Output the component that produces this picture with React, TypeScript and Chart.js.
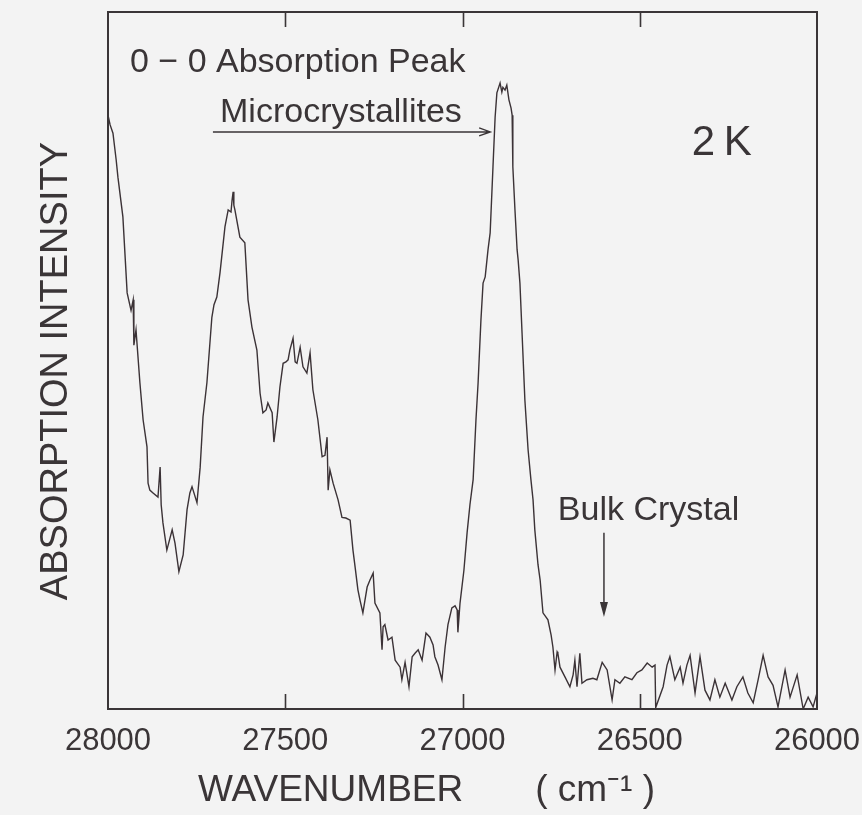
import React, { useEffect, useRef } from 'react';
import { Chart, registerables } from 'chart.js';

Chart.register(...registerables);

// Wavenumber (cm^-1) and absorption intensity (arb. units, 0-100)
const wavenumber = [
  28000, 27994, 27986, 27977, 27972, 27958, 27946, 27935, 27929, 27927, 27921, 27910, 27901, 27890, 27887,
  27882, 27873, 27859, 27853, 27850, 27845, 27834, 27819, 27811, 27800, 27788, 27777, 27769, 27763, 27749,
  27740, 27732, 27721, 27707, 27701, 27693, 27684, 27670, 27661, 27653, 27650, 27647, 27645, 27642, 27628,
  27614, 27605, 27594, 27580, 27571, 27563, 27554, 27549, 27537, 27532, 27523, 27515, 27506, 27498, 27492,
  27487, 27478, 27472, 27467, 27458, 27450, 27439, 27430, 27422, 27408, 27396, 27388, 27382, 27379, 27374,
  27365, 27351, 27340, 27329, 27317, 27309, 27303, 27295, 27289, 27281, 27269, 27261, 27252, 27247, 27233,
  27227, 27224, 27219, 27210, 27199, 27190, 27176, 27171, 27162, 27151, 27142, 27134, 27125, 27114, 27103,
  27092, 27083, 27078, 27069, 27058, 27049, 27041, 27030, 27021, 27015, 27013, 27007, 26996, 26987, 26979,
  26970, 26962, 26956, 26948, 26942, 26936, 26928, 26922, 26914, 26908, 26903, 26894, 26889, 26886, 26880,
  26875, 26869, 26863, 26860, 26858, 26852, 26846, 26843, 26838, 26832, 26824, 26815, 26807, 26801, 26796,
  26787, 26781, 26773, 26759, 26750, 26745, 26739, 26733, 26731, 26725, 26711, 26697, 26688, 26683, 26677,
  26669, 26663, 26649, 26632, 26621, 26606, 26592, 26578, 26570, 26556, 26542, 26522, 26508, 26494, 26479,
  26465, 26457, 26455, 26434, 26423, 26415, 26401, 26386, 26378, 26367, 26358, 26344, 26330, 26316, 26302,
  26288, 26274, 26259, 26251, 26240, 26226, 26209, 26195, 26180, 26166, 26152, 26138, 26124, 26110, 26090,
  26076, 26056, 26039, 26025, 26011, 26000,
];

const intensity = [
  85.2, 83.8, 82.6, 78.8, 76.3, 70.6, 59.7, 57.2, 58.7, 52.2, 54.4, 46.8, 41.5, 37.6, 32.4,
  31.4, 31.0, 30.4, 34.7, 29.3, 26.7, 22.8, 25.7, 23.8, 19.7, 22.1, 28.6, 31.0, 31.9, 29.6,
  34.7, 41.9, 46.8, 56.2, 58.0, 59.1, 62.6, 69.2, 71.6, 71.3, 73.0, 74.2, 72.3, 71.6, 67.7,
  66.9, 58.7, 54.8, 51.5, 45.3, 42.5, 42.9, 43.9, 42.5, 38.3, 41.9, 46.2, 49.6, 49.8, 50.1,
  51.5, 53.2, 49.8, 49.6, 51.9, 49.1, 48.2, 51.1, 45.8, 41.5, 36.2, 36.4, 39.0, 31.4, 34.3,
  32.4, 30.0, 27.5, 27.4, 27.1, 22.8, 20.4, 17.1, 15.6, 13.8, 17.5, 18.5, 19.5, 15.2, 13.8,
  8.5, 11.8, 12.1, 9.9, 10.3, 7.0, 6.0, 4.2, 6.7, 3.2, 7.5, 8.0, 8.5, 7.0, 10.9,
  10.3, 9.2, 7.5, 6.3, 4.2, 8.9, 12.1, 14.5, 14.8, 14.2, 11.0, 15.2, 19.9, 25.3, 29.3,
  32.9, 41.5, 46.8, 55.8, 61.1, 62.0, 65.9, 68.3, 77.8, 84.9, 88.4, 89.8, 88.5, 89.2, 88.8,
  89.5, 87.4, 86.2, 85.2, 77.8, 71.6, 65.9, 64.4, 61.1, 53.9, 44.3, 37.2, 32.9, 30.0, 25.7,
  20.7, 18.5, 13.8, 12.8, 10.6, 8.9, 5.6, 8.2, 8.0, 6.0, 4.6, 3.2, 4.9, 7.0, 3.2,
  8.0, 3.7, 4.2, 4.4, 4.2, 6.7, 5.6, 1.3, 4.2, 3.7, 4.6, 4.2, 5.2, 5.6, 6.6,
  6.0, 6.3, 0.2, 3.2, 6.3, 7.5, 4.2, 6.0, 3.7, 6.3, 7.7, 2.3, 7.5, 2.7, 1.3,
  4.2, 1.7, 3.7, 2.7, 1.3, 3.2, 4.6, 2.3, 0.9, 4.2, 7.7, 4.6, 3.4, 0.3, 5.6,
  1.7, 4.9, 0.0, 1.7, 0.3, 2.3,
];

const xTickValues = [28000, 27500, 27000, 26500, 26000];

const INK = '#3a3537';
const LINE = '#3b3236';
const FONT = '"Liberation Sans", Arial, sans-serif';

// Annotation texts, anchored in data coordinates (x: wavenumber, y: intensity)
const labels = [
  { text: '0 \u2212 0 Absorption Peak', x: 27938, y: 91.4, size: 34 },
  { text: 'Microcrystallites', x: 27684, y: 84.2, size: 34 },
  { text: '2\u2009K', x: 26353, y: 79.5, size: 42 },
  { text: 'Bulk Crystal', x: 26731, y: 27.1, size: 34 },
];

const annotationPlugin = {
  id: 'annotations',
  afterDatasetsDraw(chart: any) {
    const { ctx, chartArea: a, scales } = chart;
    const xs = scales.x;
    const ys = scales.y;
    ctx.save();
    // frame
    ctx.strokeStyle = INK;
    ctx.lineWidth = 2;
    ctx.strokeRect(a.left, a.top, a.right - a.left, a.bottom - a.top);
    // inward ticks top & bottom
    ctx.lineWidth = 1.6;
    xs.ticks.forEach((t: any) => {
      if (t.value === xs.min || t.value === xs.max) return;
      const px = Math.round(xs.getPixelForValue(t.value)) + 0.5;
      ctx.beginPath();
      ctx.moveTo(px, a.bottom);
      ctx.lineTo(px, a.bottom - 15);
      ctx.moveTo(px, a.top);
      ctx.lineTo(px, a.top + 15);
      ctx.stroke();
    });
    // texts
    ctx.fillStyle = INK;
    ctx.textBaseline = 'alphabetic';
    ctx.textAlign = 'left';
    labels.forEach((l) => {
      ctx.font = `${l.size}px ${FONT}`;
      ctx.fillText(l.text, xs.getPixelForValue(l.x), ys.getPixelForValue(l.y));
    });
    // arrow to microcrystallite peak
    ctx.lineWidth = 1.5;
    const ay = ys.getPixelForValue(82.8);
    const ax0 = xs.getPixelForValue(27704);
    const ax1 = xs.getPixelForValue(26922);
    ctx.beginPath();
    ctx.moveTo(ax0, ay);
    ctx.lineTo(ax1, ay);
    ctx.moveTo(ax1 - 11, ay - 4);
    ctx.lineTo(ax1, ay);
    ctx.lineTo(ax1 - 11, ay + 4);
    ctx.stroke();
    // arrow to bulk crystal
    const bx = xs.getPixelForValue(26601);
    const by0 = ys.getPixelForValue(25.3);
    const by1 = ys.getPixelForValue(13.2);
    ctx.beginPath();
    ctx.moveTo(bx, by0);
    ctx.lineTo(bx, by1 - 12);
    ctx.stroke();
    ctx.beginPath();
    ctx.moveTo(bx - 4, by1 - 15);
    ctx.lineTo(bx + 4, by1 - 15);
    ctx.lineTo(bx, by1);
    ctx.closePath();
    ctx.fill();
    ctx.restore();
  },
};

export default function App() {
  const ref = useRef<HTMLCanvasElement | null>(null);
  useEffect(() => {
    if (!ref.current) return;
    const data = wavenumber.map((w, i) => ({ x: w, y: intensity[i] }));
    const chart = new Chart(ref.current, {
      type: 'line',
      data: {
        datasets: [
          {
            data,
            borderColor: LINE,
            borderWidth: 1.4,
            pointRadius: 0,
            tension: 0,
            fill: false,
          },
        ],
      },
      options: {
        animation: false,
        responsive: true,
        maintainAspectRatio: false,
        layout: { padding: { top: 12, right: 45, left: 0, bottom: 0 } },
        plugins: { legend: { display: false }, tooltip: { enabled: false } },
        scales: {
          x: {
            type: 'linear',
            min: 26000,
            max: 28000,
            reverse: true,
            afterBuildTicks: (s: any) => {
              s.ticks = xTickValues.map((v) => ({ value: v }));
            },
            afterFit: (s: any) => {
              s.height = 106;
              s.paddingLeft = 0;
              s.paddingRight = 0;
            },
            grid: { display: false, drawTicks: false },
            border: { display: false },
            ticks: {
              autoSkip: false,
              maxRotation: 0,
              padding: 14,
              color: INK,
              font: { family: FONT, size: 31 },
              callback: (v: any) => String(v),
            },
            title: {
              display: true,
              text: 'WAVENUMBER       ( cm\u207B\u00B9 )       ',
              color: INK,
              font: { family: FONT, size: 37 },
              padding: { top: 0, bottom: 2 },
            },
          },
          y: {
            min: 0,
            max: 100,
            afterFit: (s: any) => {
              s.width = 108;
            },
            grid: { display: false, drawTicks: false },
            border: { display: false },
            ticks: { display: false },
            title: {
              display: true,
              text: 'ABSORPTION INTENSITY  ',
              color: INK,
              font: { family: FONT, size: 38 },
              padding: { top: 34, bottom: 0 },
            },
          },
        },
      },
      plugins: [annotationPlugin],
    });
    return () => chart.destroy();
  }, []);
  return (
    <div
      style={{
        position: 'absolute',
        left: 0,
        top: 0,
        width: 862,
        height: 815,
        background: '#f3f3f3',
      }}
    >
      <canvas ref={ref} />
    </div>
  );
}
